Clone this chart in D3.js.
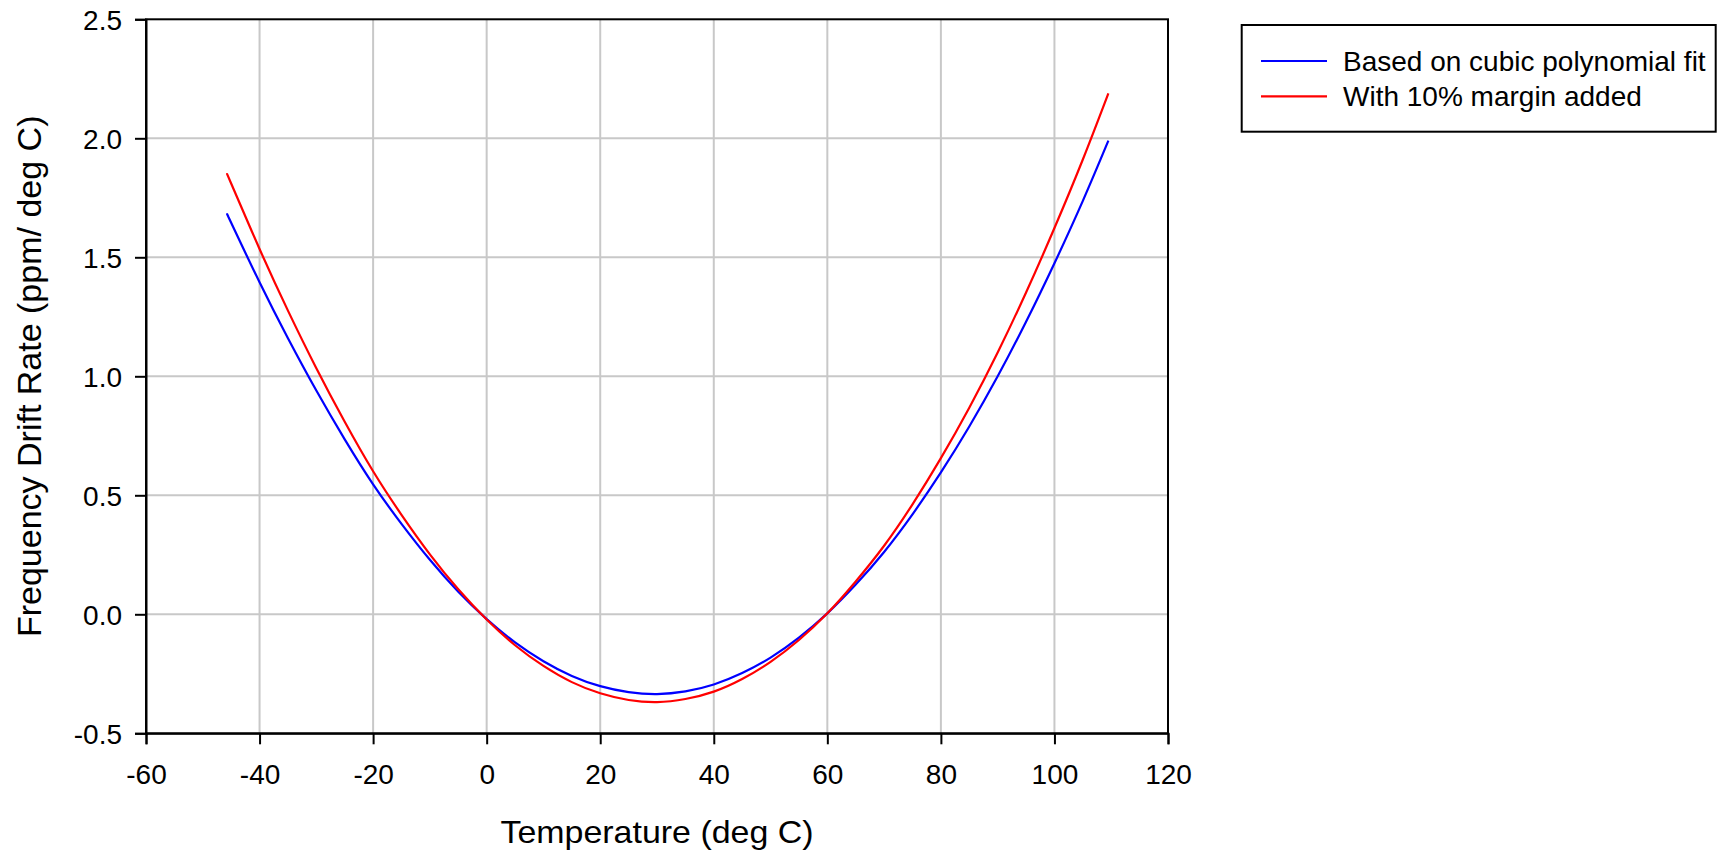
<!DOCTYPE html>
<html>
<head>
<meta charset="utf-8">
<script src="https://cdn.jsdelivr.net/npm/d3@7"></script>
<style>
  html, body { margin: 0; padding: 0; background: #ffffff; }
  svg { display: block; }
  text { font-family: "Liberation Sans", Arial, Helvetica, sans-serif; fill: #000; }
</style>
</head>
<body>
<svg id="chart" width="1729" height="854"></svg>
<script>
// ---- data ----
const temperature = [-45.5, -45, -40, -35, -30, -25, -20, -15, -10, -5, 0, 5, 10, 15, 20, 25, 30, 35, 40, 45, 50, 55, 60, 65, 70, 75, 80, 85, 90, 95, 100, 105, 109.5];
const cubicFit = [1.671, 1.645, 1.395, 1.160, 0.940, 0.735, 0.546, 0.380, 0.229, 0.095, -0.020, -0.118, -0.197, -0.259, -0.302, -0.327, -0.335, -0.324, -0.295, -0.247, -0.182, -0.098, 0.004, 0.125, 0.262, 0.420, 0.596, 0.789, 1.000, 1.229, 1.475, 1.737, 1.990];
const withMargin = [1.838, 1.810, 1.535, 1.276, 1.034, 0.809, 0.601, 0.418, 0.252, 0.105, -0.022, -0.130, -0.217, -0.285, -0.332, -0.360, -0.369, -0.356, -0.325, -0.272, -0.200, -0.108, 0.004, 0.138, 0.288, 0.462, 0.656, 0.868, 1.100, 1.352, 1.623, 1.911, 2.189];
const xTicks = [-60, -40, -20, 0, 20, 40, 60, 80, 100, 120];
const yTicks = [-0.5, 0.0, 0.5, 1.0, 1.5, 2.0, 2.5];
const seriesNames = ["Based on cubic polynomial fit", "With 10% margin added"];
const seriesColors = ["#0000ff", "#ff0000"];
const xTitle = "Temperature (deg C)";
const yTitle = "Frequency Drift Rate (ppm/ deg C)";

// ---- layout ----
const L = 146, R = 1168, T = 19.3, B = 733.3;
const svg = d3.select("#chart");
const x = d3.scaleLinear().domain([-60, 120]).range([L, R]);
const y = d3.scaleLinear().domain([-0.5, 2.5]).range([B, T]);

// gridlines
const grid = svg.append("g").attr("stroke", "#c8c8c8").attr("stroke-width", 2);
grid.selectAll("line.v").data(xTicks.slice(1, -1)).enter().append("line")
  .attr("x1", d => x(d)).attr("x2", d => x(d)).attr("y1", T).attr("y2", B);
grid.selectAll("line.h").data(yTicks.slice(1, -1)).enter().append("line")
  .attr("x1", L).attr("x2", R).attr("y1", d => y(d)).attr("y2", d => y(d));

// series
const series = [cubicFit, withMargin];
const line = d3.line().x(d => x(d[0])).y(d => y(d[1])).curve(d3.curveNatural);
series.forEach((vals, i) => {
  svg.append("path")
    .datum(temperature.map((t, j) => [t, vals[j]]))
    .attr("fill", "none")
    .attr("stroke", seriesColors[i])
    .attr("stroke-width", 2.2)
    .attr("d", line);
});

// frame
svg.append("rect").attr("x", L).attr("y", T).attr("width", R - L).attr("height", B - T)
  .attr("fill", "none").attr("stroke", "#000").attr("stroke-width", 2);

// axes
const xAxis = d3.axisBottom(x).tickValues(xTicks).tickSize(11).tickPadding(10).tickFormat(d => String(d));
const gx = svg.append("g").attr("transform", `translate(0,${B})`).call(xAxis);
const yAxis = d3.axisLeft(y).tickValues(yTicks).tickSize(11).tickPadding(10).tickFormat(d => d.toFixed(1));
const gy = svg.append("g").attr("transform", `translate(${L},0)`).call(yAxis);
[gx, gy].forEach(g => {
  g.select(".domain").attr("stroke", "#000").attr("stroke-width", 2);
  g.selectAll(".tick line").attr("stroke", "#000").attr("stroke-width", 2);
  g.selectAll(".tick text").attr("font-size", 28).attr("font-family", "Liberation Sans, Arial, sans-serif").attr("fill", "#000");
});
gx.selectAll(".tick text").attr("dy", null).attr("y", 0).attr("dominant-baseline", "auto")
  .attr("transform", "translate(0,51)");
gy.selectAll(".tick text").attr("dy", "0.36em").attr("x", -24);

// axis titles
svg.append("text").attr("x", (L + R) / 2).attr("y", 843).attr("text-anchor", "middle")
  .attr("font-size", 32).attr("textLength", 313).attr("lengthAdjust", "spacingAndGlyphs").text(xTitle);
svg.append("text").attr("transform", `translate(40.5,${(T + B) / 2}) rotate(-90)`)
  .attr("text-anchor", "middle").attr("font-size", 34).text(yTitle);

// legend
const lg = svg.append("g");
lg.append("rect").attr("x", 1241.7).attr("y", 25).attr("width", 474).attr("height", 106.7)
  .attr("fill", "#fff").attr("stroke", "#000").attr("stroke-width", 2);
seriesNames.forEach((name, i) => {
  const ly = 61 + i * 35.3;
  lg.append("line").attr("x1", 1261).attr("x2", 1327).attr("y1", ly).attr("y2", ly)
    .attr("stroke", seriesColors[i]).attr("stroke-width", 2.2);
  lg.append("text").attr("x", 1343).attr("y", ly + 10).attr("font-size", 28).text(name);
});
</script>
</body>
</html>
